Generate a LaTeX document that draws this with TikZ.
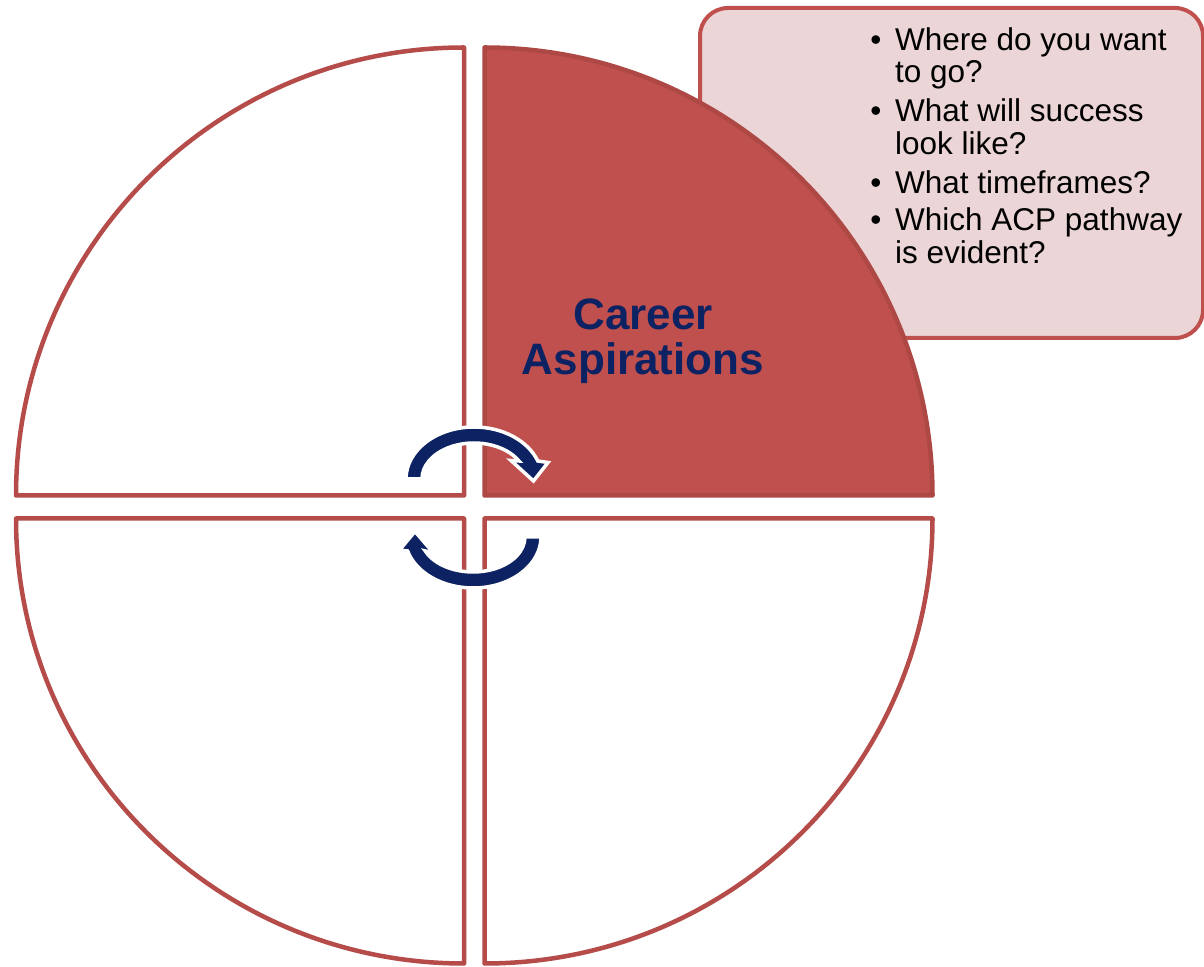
\documentclass[tikz,border=0pt]{standalone}
\usepackage{fontspec}
\setmainfont{Liberation Sans}
\begin{document}
\begin{tikzpicture}[x=1pt,y=1pt]
  \definecolor{accent}{HTML}{C0504D}
  \definecolor{quadline}{HTML}{B54C49}
  \definecolor{calloutfill}{HTML}{EBD5D6}
  \definecolor{navy}{HTML}{0C2262}
  \tikzset{
    quad/.style={draw=quadline, line width=4.5pt, line join=round},
    callout/.style={draw=accent, fill=calloutfill, line width=4pt, rounded corners=28pt},
    cycarrow/.style={fill=navy, draw=white, line width=3.5pt, line join=miter},
    title/.style={anchor=base, inner sep=0pt, text=navy, font=\fontsize{44}{45}\bfseries\selectfont},
    bul/.style={anchor=base, inner sep=0pt, font=\fontsize{31.5}{32}\selectfont},
    item/.style={anchor=base west, inner sep=0pt, font=\fontsize{31.5}{32}\selectfont},
  }
  \useasboundingbox (0,0) rectangle (1204,966);
  \fill[white] (0,0) rectangle (1204,966);

  % callout box behind the highlighted quarter
  \draw[callout] (700,628) rectangle (1203,958);

  % four quarters of the circle
  \draw[quad] (464,470.5) -- (16,470.5) arc[radius=448pt, start angle=180, end angle=90] -- cycle;
  \draw[quad, fill=accent, draw=accent!90!black] (484.5,470.5) -- (484.5,918.5) arc[radius=448pt, start angle=90, end angle=0] -- cycle;
  \draw[quad] (464,447.5) -- (16,447.5) arc[x radius=448pt, y radius=445pt, start angle=180, end angle=270] -- cycle;
  \draw[quad] (484.5,447.5) -- (932.5,447.5) arc[x radius=448pt, y radius=445pt, start angle=0, end angle=-90] -- cycle;

  % circular arrows at the centre
  \draw[cycarrow] (406,487)
    arc[x radius=68pt, y radius=52pt, start angle=180, end angle=20.25]
    -- (548,503.5) -- (533.5,485) -- (511,505.5) -- (519,505)
    arc[x radius=52pt, y radius=36pt, start angle=30, end angle=180] -- cycle;
  \draw[cycarrow] (541,429)
    arc[x radius=68pt, y radius=51pt, start angle=0, end angle=-164.07]
    -- (399.5,416) -- (415,434.5) -- (433.5,413) -- (425.3,415)
    arc[x radius=52pt, y radius=35pt, start angle=-156.42, end angle=0] -- cycle;

  % title of the highlighted quarter
  \node[title] (t1) at (643,636) {Career};
  \node[title] (t2) at (643,591) {Aspirations};

  % questions in the callout
  \node[bul] (b1) at (876,915) {\textbullet};
  \node[item] (q1) at (895,915) {\begin{tabular}[t]{@{}l@{}}Where do you want\\to go?\end{tabular}};
  \node[bul] (b2) at (876,844) {\textbullet};
  \node[item] (q2) at (895,844) {\begin{tabular}[t]{@{}l@{}}What will success\\look like?\end{tabular}};
  \node[bul] (b3) at (876,772) {\textbullet};
  \node[item] (q3) at (895,772) {What timeframes?};
  \node[bul] (b4) at (876,735) {\textbullet};
  \node[item] (q4) at (895,735) {\begin{tabular}[t]{@{}l@{}}Which ACP pathway\\is evident?\end{tabular}};
\end{tikzpicture}
\end{document}
